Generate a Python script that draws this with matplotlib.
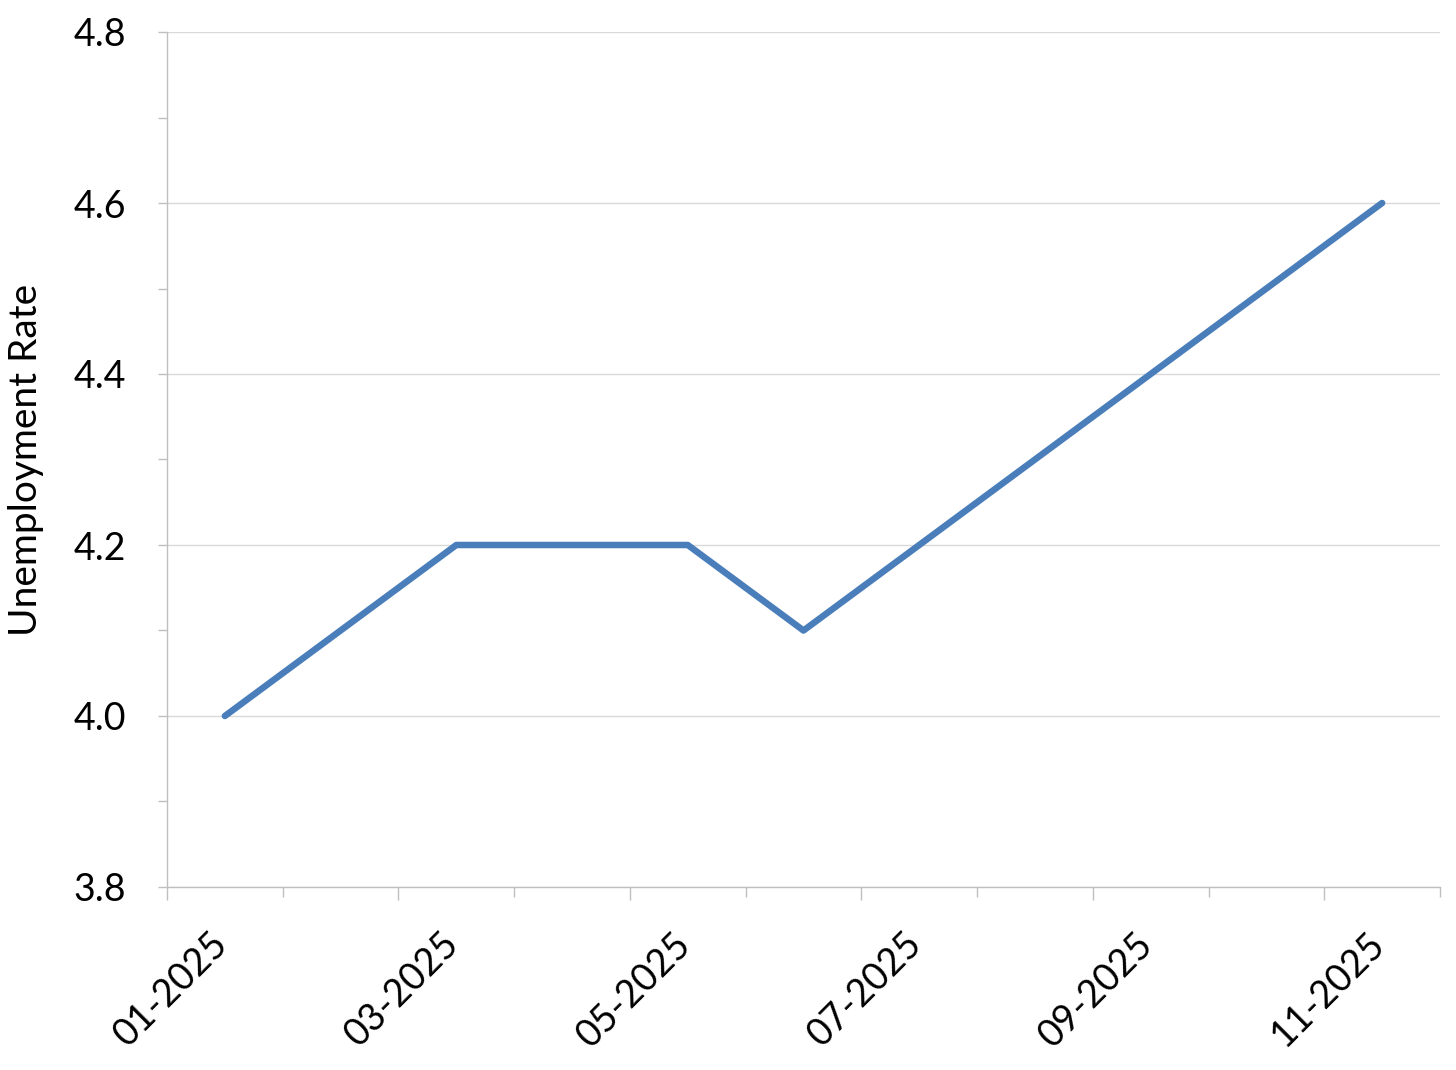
import matplotlib
matplotlib.use("Agg")
import matplotlib.pyplot as plt
from matplotlib.ticker import MultipleLocator, FixedLocator, NullFormatter

# Data (month index 1..11 of 2025; October missing)
months = [1, 2, 3, 4, 5, 6, 7, 8, 9, 11]
rates = [4.0, 4.1, 4.2, 4.2, 4.2, 4.1, 4.2, 4.3, 4.4, 4.6]
label_months = [1, 3, 5, 7, 9, 11]
tick_labels = ["01-2025", "03-2025", "05-2025", "07-2025", "09-2025", "11-2025"]
y_label = "Unemployment Rate"

plt.rcParams['font.family'] = ['Lato', 'DejaVu Sans']

fig = plt.figure(figsize=(14.56, 10.70), dpi=100)
ax = fig.add_axes([167/1456, 183/1070, (1440-167)/1456, (887-32)/1070])

ax.plot(months, rates, color="#4A7EBB", lw=4.7, solid_capstyle="round",
        solid_joinstyle="round", zorder=3)

ax.set_xlim(0.5, 11.5)
ax.set_ylim(3.8, 4.8)

grid_c = "#D9D9D9"
ax.yaxis.set_major_locator(MultipleLocator(0.2))
ax.yaxis.set_minor_locator(MultipleLocator(0.1))
ax.yaxis.grid(True, which="major", color=grid_c, lw=1.0)
ax.set_axisbelow(True)
ax.set_yticklabels([f"{v:.1f}" for v in ax.get_yticks()])

ax.xaxis.set_major_locator(FixedLocator([0.5, 2.5, 4.5, 6.5, 8.5, 10.5]))
ax.xaxis.set_minor_locator(FixedLocator([1.5, 3.5, 5.5, 7.5, 9.5, 11.5]))
ax.xaxis.set_major_formatter(NullFormatter())

for s in ["top", "right"]:
    ax.spines[s].set_visible(False)
for s in ["left", "bottom"]:
    ax.spines[s].set_color("#BFBFBF")
    ax.spines[s].set_linewidth(1.0)

ax.tick_params(axis="y", which="both", length=6.5, width=1.0, color="#BFBFBF",
               labelsize=27, pad=23)
ax.tick_params(axis="x", which="major", length=9.5, width=1.0, color="#BFBFBF")
ax.tick_params(axis="x", which="minor", length=7, width=1.0, color="#BFBFBF")

for m, lab in zip(label_months, tick_labels):
    ax.annotate(lab, xy=(m, 0), xycoords=("data", "axes fraction"),
                xytext=(-2, -37), textcoords="offset points",
                rotation=45, rotation_mode="anchor", ha="right", va="center",
                fontsize=27)

ax.set_ylabel(y_label, fontsize=28)
ax.yaxis.set_label_coords(-0.097, 0.5)

fig.savefig("out.png", dpi=100)
